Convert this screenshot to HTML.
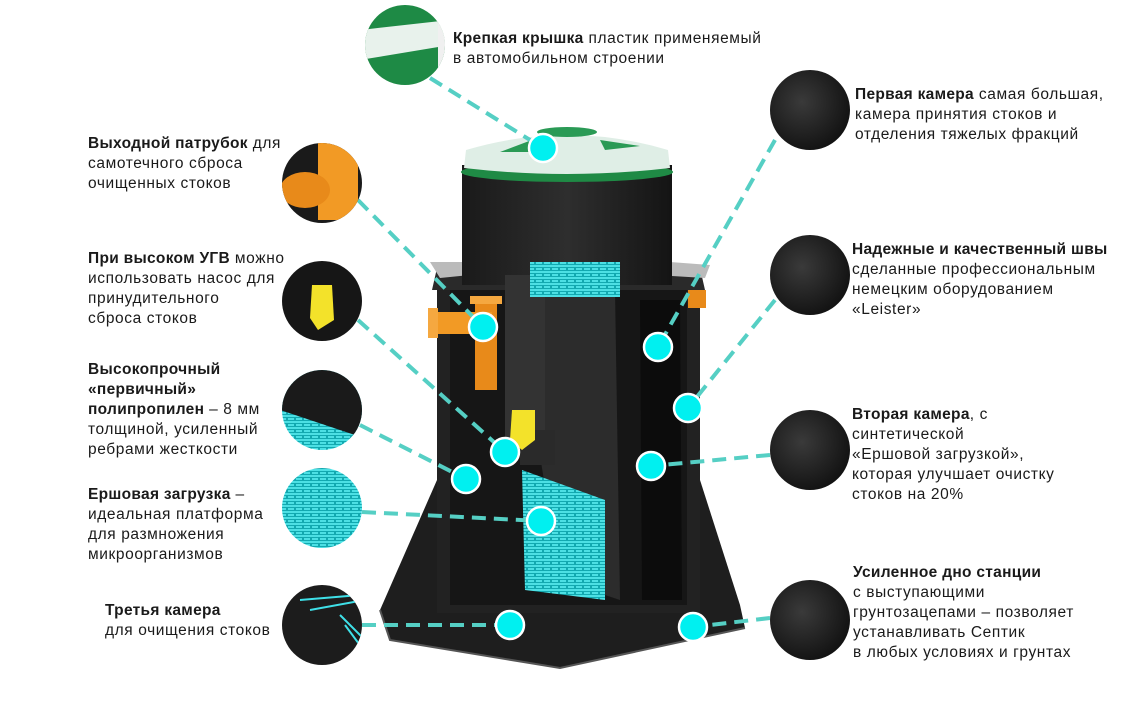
<!DOCTYPE html>
<html><head><meta charset="utf-8"><style>
html,body{margin:0;padding:0;background:#fff;}
svg{display:block}
text{font-family:"Liberation Sans",sans-serif;font-size:15.5px;letter-spacing:0.6px;fill:#1a1a1a}
.b{font-weight:bold;letter-spacing:0.3px}
</style></head><body>
<svg width="1130" height="722" viewBox="0 0 1130 722" xmlns="http://www.w3.org/2000/svg">
<defs>
<radialGradient id="dk" cx="0.4" cy="0.4" r="0.7"><stop offset="0" stop-color="#3a3a3a"/><stop offset="1" stop-color="#0e0e0e"/></radialGradient>
<linearGradient id="cyl" x1="0" x2="1"><stop offset="0" stop-color="#1a1a1a"/><stop offset="0.5" stop-color="#2e2e2e"/><stop offset="1" stop-color="#141414"/></linearGradient>
<pattern id="brush" width="8" height="6" patternUnits="userSpaceOnUse"><rect width="8" height="6" fill="#12a9b0"/><path d="M0 2h8M0 5h6" stroke="#5ff2f5" stroke-width="1.4"/></pattern>
<clipPath id="c1"><circle cx="405" cy="45" r="40"/></clipPath>
<clipPath id="c2"><circle cx="322" cy="183" r="40"/></clipPath>
<clipPath id="c3"><circle cx="322" cy="301" r="40"/></clipPath>
<clipPath id="c4"><circle cx="322" cy="410" r="40"/></clipPath>
<clipPath id="c6"><circle cx="322" cy="625" r="40"/></clipPath>
</defs>

<path d="M437 480 L380 610 L390 640 L560 668 L745 628 L740 605 L700 480 Z" fill="#1e1e1e"/>
<path d="M380 610 L390 640 L560 668 L745 628" fill="none" stroke="#555" stroke-width="2"/>
<rect x="437" y="268" width="263" height="345" fill="#222"/>
<rect x="450" y="280" width="237" height="325" fill="#161616"/>
<path d="M437 268 L700 268 L705 290 L432 290 Z" fill="#2a2a2a"/>
<path d="M430 262 L470 262 L470 275 L440 278 Z" fill="#bbb"/>
<path d="M670 262 L710 265 L705 278 L672 276 Z" fill="#bbb"/>
<rect x="462" y="165" width="210" height="120" fill="url(#cyl)"/>
<ellipse cx="567" cy="172" rx="106" ry="10" fill="#1f8a45"/>
<path d="M466 150 Q567 120 668 150 L670 168 Q567 180 464 168 Z" fill="#dfeee6"/>
<ellipse cx="567" cy="132" rx="30" ry="5" fill="#2a9a55"/>
<path d="M500 152 L545 135 L540 152 Z" fill="#2a9a55"/>
<path d="M600 140 L640 146 L605 150 Z" fill="#2a9a55"/>
<path d="M515 300 L615 290 L620 600 L560 580 Z" fill="#2c2c2c"/>
<path d="M640 300 L680 300 L682 600 L642 600 Z" fill="#0c0c0c"/>
<rect x="505" y="275" width="40" height="180" fill="#333"/>
<rect x="520" y="430" width="35" height="35" fill="#2a2a2a"/>
<path d="M522 470 L605 500 L605 600 L525 590 Z" fill="url(#brush)"/>
<rect x="530" y="262" width="90" height="35" fill="url(#brush)"/>
<rect x="475" y="298" width="22" height="92" fill="#e88a1a"/>
<rect x="430" y="312" width="62" height="22" fill="#f29a25"/>
<rect x="470" y="296" width="32" height="8" fill="#f5a840"/>
<rect x="428" y="308" width="10" height="30" fill="#f5a840"/>
<rect x="688" y="290" width="18" height="18" fill="#e88a1a"/>
<path d="M512 410 L535 410 L535 440 L522 450 L510 440 Z" fill="#f3e22a"/>

<g stroke="#55cfc4" stroke-width="4" stroke-dasharray="14 8" fill="none">
<line x1="430" y1="78" x2="543" y2="148"/>
<line x1="358" y1="200" x2="483" y2="327"/>
<line x1="358" y1="320" x2="505" y2="452"/>
<line x1="360" y1="425" x2="466" y2="479"/>
<line x1="362" y1="512" x2="541" y2="521"/>
<line x1="362" y1="625" x2="510" y2="625"/>
<line x1="775" y1="140" x2="658" y2="347"/>
<line x1="775" y1="300" x2="688" y2="408"/>
<line x1="770" y1="455" x2="651" y2="466"/>
<line x1="770" y1="618" x2="693" y2="627"/>
</g>
<g fill="#00f0f0" stroke="#fff" stroke-width="2.5">
<circle cx="543" cy="148" r="14"/><circle cx="483" cy="327" r="14"/>
<circle cx="658" cy="347" r="14"/><circle cx="505" cy="452" r="14"/>
<circle cx="688" cy="408" r="14"/><circle cx="466" cy="479" r="14"/>
<circle cx="651" cy="466" r="14"/><circle cx="541" cy="521" r="14"/>
<circle cx="510" cy="625" r="14"/><circle cx="693" cy="627" r="14"/>
</g>

<g clip-path="url(#c1)"><rect x="360" y="0" width="90" height="90" fill="#1e8a45"/><path d="M360 30 L450 20 L450 45 L360 60 Z" fill="#e8f2ec"/><rect x="438" y="0" width="12" height="90" fill="#f0f0f0"/></g>
<g clip-path="url(#c2)"><rect x="280" y="140" width="90" height="90" fill="#1a1a1a"/><rect x="318" y="140" width="40" height="80" fill="#f29a25"/><ellipse cx="305" cy="190" rx="25" ry="18" fill="#e88a1a"/></g>
<g clip-path="url(#c3)"><rect x="280" y="258" width="90" height="90" fill="#161616"/><path d="M312 285 L332 285 L334 320 L318 330 L310 318 Z" fill="#f3e22a"/></g>
<g clip-path="url(#c4)"><rect x="280" y="368" width="90" height="90" fill="url(#brush)"/><path d="M280 368 L370 368 L370 440 L280 410 Z" fill="#1a1a1a"/></g>
<circle cx="322" cy="508" r="40" fill="url(#brush)"/>
<g clip-path="url(#c6)"><rect x="280" y="582" width="90" height="90" fill="#1c1c1c"/><path d="M300 600 L360 595 M310 610 L365 600 M340 615 L365 640 M345 625 L362 648" stroke="#3fe0e8" stroke-width="2"/></g>
<circle cx="810" cy="110" r="40" fill="url(#dk)"/>
<circle cx="810" cy="275" r="40" fill="url(#dk)"/>
<circle cx="810" cy="450" r="40" fill="url(#dk)"/>
<circle cx="810" cy="620" r="40" fill="url(#dk)"/>

<text x="453" y="43"><tspan class="b">Крепкая крышка</tspan> пластик применяемый<tspan x="453" dy="20">в автомобильном строении</tspan></text>
<text x="88" y="148"><tspan class="b">Выходной патрубок</tspan> для<tspan x="88" dy="20">самотечного сброса</tspan><tspan x="88" dy="20">очищенных стоков</tspan></text>
<text x="88" y="263"><tspan class="b">При высоком УГВ</tspan> можно<tspan x="88" dy="20">использовать насос для</tspan><tspan x="88" dy="20">принудительного</tspan><tspan x="88" dy="20">сброса стоков</tspan></text>
<text x="88" y="374"><tspan class="b">Высокопрочный</tspan><tspan x="88" dy="20" class="b">«первичный»</tspan><tspan x="88" dy="20" class="b">полипропилен</tspan> – 8 мм<tspan x="88" dy="20">толщиной, усиленный</tspan><tspan x="88" dy="20">ребрами жесткости</tspan></text>
<text x="88" y="499"><tspan class="b">Ершовая загрузка</tspan> –<tspan x="88" dy="20">идеальная платформа</tspan><tspan x="88" dy="20">для размножения</tspan><tspan x="88" dy="20">микроорганизмов</tspan></text>
<text x="105" y="615"><tspan class="b">Третья камера</tspan><tspan x="105" dy="20">для очищения стоков</tspan></text>
<text x="855" y="99"><tspan class="b">Первая камера</tspan> самая большая,<tspan x="855" dy="20">камера принятия стоков и</tspan><tspan x="855" dy="20">отделения тяжелых фракций</tspan></text>
<text x="852" y="254"><tspan class="b">Надежные и качественный швы</tspan><tspan x="852" dy="20">сделанные профессиональным</tspan><tspan x="852" dy="20">немецким оборудованием</tspan><tspan x="852" dy="20">«Leister»</tspan></text>
<text x="852" y="419"><tspan class="b">Вторая камера</tspan>, с<tspan x="852" dy="20">синтетической</tspan><tspan x="852" dy="20">«Ершовой загрузкой»,</tspan><tspan x="852" dy="20">которая улучшает очистку</tspan><tspan x="852" dy="20">стоков на 20%</tspan></text>
<text x="853" y="577"><tspan class="b">Усиленное дно станции</tspan><tspan x="853" dy="20">с выступающими</tspan><tspan x="853" dy="20">грунтозацепами – позволяет</tspan><tspan x="853" dy="20">устанавливать Септик</tspan><tspan x="853" dy="20">в любых условиях и грунтах</tspan></text>
</svg>
</body></html>
